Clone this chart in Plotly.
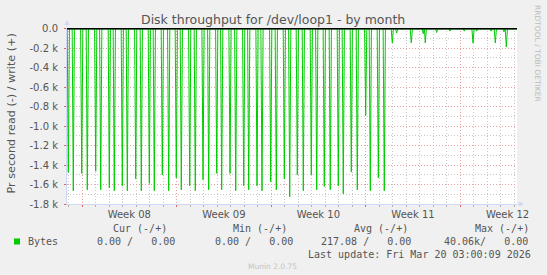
import pandas as pd
import plotly.graph_objects as go

# ---------------- data ----------------
# read (-) samples that differ from zero: time, bytes per second (negative = read)
read_times = [
    "2026-02-14 23:40", "2026-02-15 08:30", "2026-02-15 23:30", "2026-02-16 09:25",
    "2026-02-17 00:20", "2026-02-17 09:15", "2026-02-18 00:30", "2026-02-18 09:20",
    "2026-02-18 23:35", "2026-02-19 08:30", "2026-02-19 23:25", "2026-02-20 09:20",
    "2026-02-20 23:35", "2026-02-21 08:25", "2026-02-21 22:40", "2026-02-22 10:00",
    "2026-02-22 23:30", "2026-02-23 08:25", "2026-02-23 23:20", "2026-02-24 09:15",
    "2026-02-24 23:00", "2026-02-25 09:05", "2026-02-25 23:20", "2026-02-26 08:10",
    "2026-02-26 22:55", "2026-02-27 09:05", "2026-02-27 23:15", "2026-02-28 08:10",
    "2026-02-28 22:55", "2026-03-01 07:45", "2026-03-01 23:15", "2026-03-02 09:10",
    "2026-03-02 23:25", "2026-03-03 09:00", "2026-03-03 22:30", "2026-03-04 09:10",
    "2026-03-04 23:20", "2026-03-05 09:00", "2026-03-05 22:25", "2026-03-06 09:05",
    "2026-03-06 23:20", "2026-03-07 08:10", "2026-03-07 22:25", "2026-03-08 09:05",
    "2026-03-09 00:00", "2026-03-09 08:10", "2026-03-09 22:25", "2026-03-10 09:00",
    "2026-03-10 23:15", "2026-03-11 07:05", "2026-03-12 09:00", "2026-03-13 06:20",
    "2026-03-13 09:50", "2026-03-14 06:05", "2026-03-15 05:45", "2026-03-16 07:10",
    "2026-03-16 22:40", "2026-03-17 05:10", "2026-03-18 06:35", "2026-03-18 14:15",
    "2026-03-19 05:40", "2026-03-19 09:50",
]
read_values = [
    -1476, -1664, -1486, -1654,
    -1463, -1654, -1633, -1664,
    -1613, -1664, -1541, -1664,
    -1588, -1664, -1500, -1664,
    -1531, -1654, -1613, -1664,
    -1551, -1654, -1486, -1654,
    -1486, -1664, -1613, -1654,
    -1613, -1664, -1572, -1654,
    -1541, -1726, -1500, -1664,
    -1500, -1654, -1620, -1654,
    -1613, -1695, -1472, -1654,
    -890, -1664, -1531, -1664,
    -146, -44, -146, -51,
    -146, -38, -24, -24,
    -146, -24, -24, -146,
    -31, -187,
]
# write (+) is zero over the whole period
write_times = ["2026-02-14 21:20", "2026-03-20 04:48"]
write_values = [0, 0]

x_start = "2026-02-14 21:20"
x_end = "2026-03-20 04:48"
sample_step_hours = 2

week_starts = ["2026-02-16", "2026-02-23", "2026-03-02", "2026-03-09", "2026-03-16"]
week_label_pos = ["2026-02-19 12:00", "2026-02-26 12:00", "2026-03-05 12:00",
                  "2026-03-12 12:00", "2026-03-19 12:00"]
week_labels = ["Week 08", "Week 09", "Week 10", "Week 11", "Week 12"]

y_tick_vals = [0, -200, -400, -600, -800, -1000, -1200, -1400, -1600, -1800]
y_tick_text = ["0.0", "-0.2 k", "-0.4 k", "-0.6 k", "-0.8 k", "-1.0 k",
               "-1.2 k", "-1.4 k", "-1.6 k", "-1.8 k"]

legend_headers = ["Cur (-/+)", "Min (-/+)", "Avg (-/+)", "Max (-/+)"]
legend_values = ["0.00 /   0.00", "0.00 /   0.00", "217.08 /   0.00", "40.06k/   0.00"]
series_name = "Bytes"
last_update = "Last update: Fri Mar 20 03:00:09 2026"
title = "Disk throughput for /dev/loop1 - by month"
y_title = "Pr second read (-) / write (+)"

# ---------------- build the read line ----------------
step = pd.Timedelta(hours=sample_step_hours)
pts = {pd.Timestamp(x_start): 0, pd.Timestamp(x_end): 0}
for t, v in zip(read_times, read_values):
    pts[pd.Timestamp(t)] = v
for t in read_times:
    t = pd.Timestamp(t)
    pts.setdefault(t - step, 0)
    pts.setdefault(t + step, 0)
xs = sorted(pts)
ys = [pts[k] for k in xs]

# ---------------- figure ----------------
W, H = 547, 275
L, R, T, B = 67, 517, 28, 204
def X(px):
    return (px - L) / (R - L)
def Y(py):
    return (B - py) / (B - T)

GREEN = "#00CC00"
FONT = "#555555"
AXIS = "#CFD6F8"
MGRID = "#E8A0A0"
GRID = "#C8C8C8"

fig = go.Figure()
fig.add_trace(go.Scatter(x=xs, y=ys, mode="lines", line=dict(color=GREEN, width=1),
                         showlegend=False, hoverinfo="skip"))
fig.add_trace(go.Scatter(x=write_times, y=write_values, mode="lines",
                         line=dict(color=GREEN, width=1), xaxis="x2",
                         showlegend=False, hoverinfo="skip"))

fig.update_layout(
    width=W, height=H,
    margin=dict(l=L, r=W - R, t=T, b=H - B, pad=0),
    paper_bgcolor="#F0F0F0", plot_bgcolor="#FFFFFF",
    font=dict(family="DejaVu Sans", size=10, color=FONT),
    showlegend=False,
    xaxis=dict(
        type="date", range=[x_start, x_end], automargin=False,
        tickmode="array", tickvals=week_starts, ticktext=["" for _ in week_starts],
        showgrid=True, gridcolor=MGRID, griddash="1px,2px", gridwidth=1,
        ticks="outside", ticklen=2, tickcolor="#E06060", tickwidth=1,
        minor=dict(dtick=86400000, tick0="2026-02-16", showgrid=True, gridcolor=GRID,
                   griddash="1px,2px", gridwidth=1, ticks="outside", ticklen=2,
                   tickcolor="#B0B0B0"),
        showline=True, linecolor=AXIS, linewidth=1, zeroline=False,
    ),
    xaxis2=dict(
        type="date", overlaying="x", matches="x", anchor="y", side="bottom",
        range=[x_start, x_end], automargin=False,
        tickmode="array", tickvals=week_label_pos, ticktext=week_labels,
        showgrid=False, ticks="", showline=False, zeroline=False,
        tickfont=dict(family="DejaVu Sans", size=10, color=FONT),
        ticklabelstandoff=3,
    ),
    yaxis=dict(
        range=[-1800, 8], automargin=False,
        tickmode="array", tickvals=y_tick_vals, ticktext=y_tick_text,
        showgrid=True, gridcolor=MGRID, griddash="1px,2px", gridwidth=1,
        ticks="outside", ticklen=2, tickcolor="#E06060",
        minor=dict(dtick=100, tick0=0, showgrid=True, gridcolor=GRID,
                   griddash="1px,2px", gridwidth=1),
        showline=True, linecolor=AXIS, linewidth=1, zeroline=False,
        tickfont=dict(family="DejaVu Sans", size=10, color=FONT),
        ticklabelstandoff=4,
    ),
)

# black zero rule
fig.add_shape(type="line", xref="paper", yref="y", x0=0, x1=1, y0=0, y1=0,
              line=dict(color="#000000", width=1.5), layer="above")

ann = []
# title
ann.append(dict(text=title, x=X(272.5), y=Y(19), xref="paper", yref="paper",
                xanchor="center", yanchor="middle", showarrow=False,
                font=dict(family="DejaVu Sans", size=12.5, color=FONT)))
# y title
ann.append(dict(text=y_title, x=X(10.5), y=Y(114), xref="paper", yref="paper",
                xanchor="center", yanchor="middle", showarrow=False, textangle=-90,
                font=dict(family="DejaVu Sans", size=11.2, color=FONT)))
# rrdtool side text
ann.append(dict(text="RRDTOOL / TOBI OETIKER", x=X(537.5), y=Y(53.5), xref="paper",
                yref="paper", xanchor="center", yanchor="middle", showarrow=False,
                textangle=90, font=dict(family="DejaVu Sans", size=7.5, color="#BBBBBB")))
# legend headers
MONO = "DejaVu Sans Mono"
for txt, px in zip(legend_headers, [111, 231, 352, 473]):
    ann.append(dict(text=txt, x=X(px), y=Y(228.6), xref="paper", yref="paper",
                    xanchor="left", yanchor="middle", showarrow=False,
                    font=dict(family=MONO, size=10, color=FONT)))
ann.append(dict(text=series_name, x=X(26), y=Y(241.5), xref="paper", yref="paper",
                xanchor="left", yanchor="middle", showarrow=False,
                font=dict(family=MONO, size=10, color=FONT)))
for txt, px in zip(legend_values, [95, 213, 318.5, 442]):
    ann.append(dict(text=txt.replace(" ", "&nbsp;"), x=X(px), y=Y(241.5), xref="paper",
                    yref="paper", xanchor="left", yanchor="middle", showarrow=False,
                    font=dict(family=MONO, size=10, color=FONT)))
ann.append(dict(text=last_update, x=X(533), y=Y(254), xref="paper", yref="paper",
                xanchor="right", yanchor="middle", showarrow=False,
                font=dict(family=MONO, size=10, color=FONT)))
ann.append(dict(text="Munin 2.0.75", x=X(272.5), y=Y(266), xref="paper", yref="paper",
                xanchor="center", yanchor="middle", showarrow=False,
                font=dict(family="DejaVu Sans", size=7.5, color="#C4C4C4")))
# axis arrows
ann.append(dict(text="", x=X(67), y=Y(20), xref="paper", yref="paper", showarrow=True,
                ax=0, ay=8, arrowhead=2, arrowsize=1, arrowwidth=1, arrowcolor=AXIS))
ann.append(dict(text="", x=X(524), y=Y(204), xref="paper", yref="paper", showarrow=True,
                ax=-8, ay=0, arrowhead=2, arrowsize=1, arrowwidth=1, arrowcolor=AXIS))
fig.update_layout(annotations=ann)

fig.add_shape(type="rect", xref="paper", yref="paper", x0=X(14), x1=X(20),
              y0=Y(244.5), y1=Y(238.5), fillcolor=GREEN, line=dict(width=0))

fig.write_html("out.html")
